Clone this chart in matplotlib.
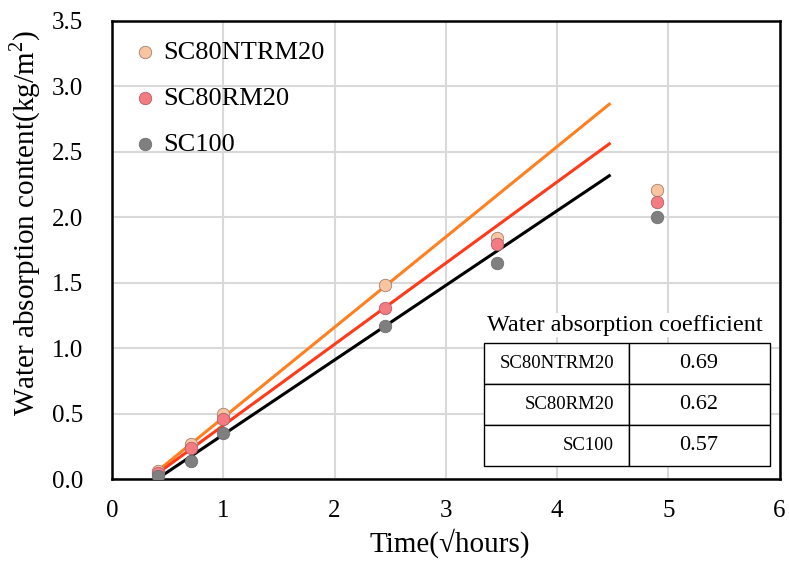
import matplotlib.pyplot as plt
import numpy as np

plt.rcParams['font.family'] = ['Liberation Serif', 'DejaVu Serif']
plt.rcParams['mathtext.fontset'] = 'custom'
plt.rcParams['mathtext.rm'] = 'Liberation Serif'

time_sqrt_h = [0.41, 0.71, 1.0, 2.45, 3.46, 4.90]
series_names = ['SC80NTRM20', 'SC80RM20', 'SC100']
sc80ntrm20 = [0.06, 0.27, 0.50, 1.48, 1.84, 2.21]
sc80rm20 = [0.05, 0.24, 0.46, 1.31, 1.80, 2.12]
sc100 = [0.02, 0.14, 0.35, 1.17, 1.65, 2.00]

# fitted lines: slope (absorption coefficient) and intercept
slopes = [0.69, 0.62, 0.57]
intercepts = [-0.22, -0.21, -0.23]
fit_range = [0.41, 4.47]
coef_labels = ['0.69', '0.62', '0.57']

marker_colors = ['#F9C4A2', '#F47B82', '#7F7F7F']
marker_edges = ['#A08070', '#B06068', '#707070']
line_colors = ['#FF8020', '#FF3A1A', '#000000']


def main():
    fig, ax = plt.subplots(figsize=(7.89, 5.67), dpi=100)
    fig.subplots_adjust(left=0.142, right=0.988, top=0.963, bottom=0.155)

    all_series = [sc80ntrm20, sc80rm20, sc100]
    # lines first, points on top
    xs = np.array(fit_range)
    for k in range(3):
        ax.plot(xs, slopes[k] * xs + intercepts[k], color=line_colors[k], lw=2.2, zorder=2)
    for k in range(3):
        ax.scatter(time_sqrt_h, all_series[k], s=80, c=marker_colors[k],
                   edgecolors=marker_edges[k], linewidths=0.6, label=series_names[k], zorder=3)

    ax.set_xlim(0, 6)
    ax.set_ylim(0, 3.5)
    ax.set_xticks(np.arange(0, 7, 1))
    ax.set_yticks(np.arange(0, 3.51, 0.5))
    ax.set_yticklabels([f'{v:.1f}' for v in np.arange(0, 3.51, 0.5)])
    ax.tick_params(labelsize=18, length=0)
    ax.tick_params(axis='y', pad=21)
    ax.tick_params(axis='x', pad=15)
    ax.grid(color='#D9D9D9', lw=1.5)
    ax.set_axisbelow(True)
    for sp in ax.spines.values():
        sp.set_linewidth(1.8)

    ax.set_xlabel('Time(√hours)', fontsize=21)
    ax.xaxis.label.set_va('center')
    ax.xaxis.set_label_coords(0.506, -0.14)
    ax.set_ylabel('Water absorption content(kg/m$^2$)', fontsize=21)
    ax.yaxis.label.set_va('center')
    ax.yaxis.set_label_coords(-0.130, 0.559)

    ax.legend(loc='upper left', frameon=False, fontsize=19, handlelength=1.0,
              handletextpad=0.2, labelspacing=0.85, borderaxespad=0.45, borderpad=0.3)

    cells = [[series_names[k], coef_labels[k]] for k in range(3)]
    tbl = ax.table(cellText=cells, cellLoc='center', bbox=[0.557, 0.028, 0.428, 0.27], zorder=4)
    tbl.auto_set_font_size(False)
    for (r, c), cell in tbl.get_celld().items():
        cell.set_facecolor('white')
        cell.set_linewidth(1)
        if c == 0:
            cell.set_width(0.217)
            cell.get_text().set_fontsize(13.5)
            cell._loc = 'right'
            cell.get_text().set_ha('right')
            cell.PAD = 0.1
        else:
            cell.set_width(0.211)
            cell.get_text().set_fontsize(16)
    ax.text(0.769, 0.336, 'Water absorption coefficient', transform=ax.transAxes,
            ha='center', va='center', fontsize=17.5, zorder=5,
            bbox=dict(facecolor='white', edgecolor='none', pad=1))

    fig.savefig('out.png', dpi=100)


if __name__ == "__main__":
    main()
